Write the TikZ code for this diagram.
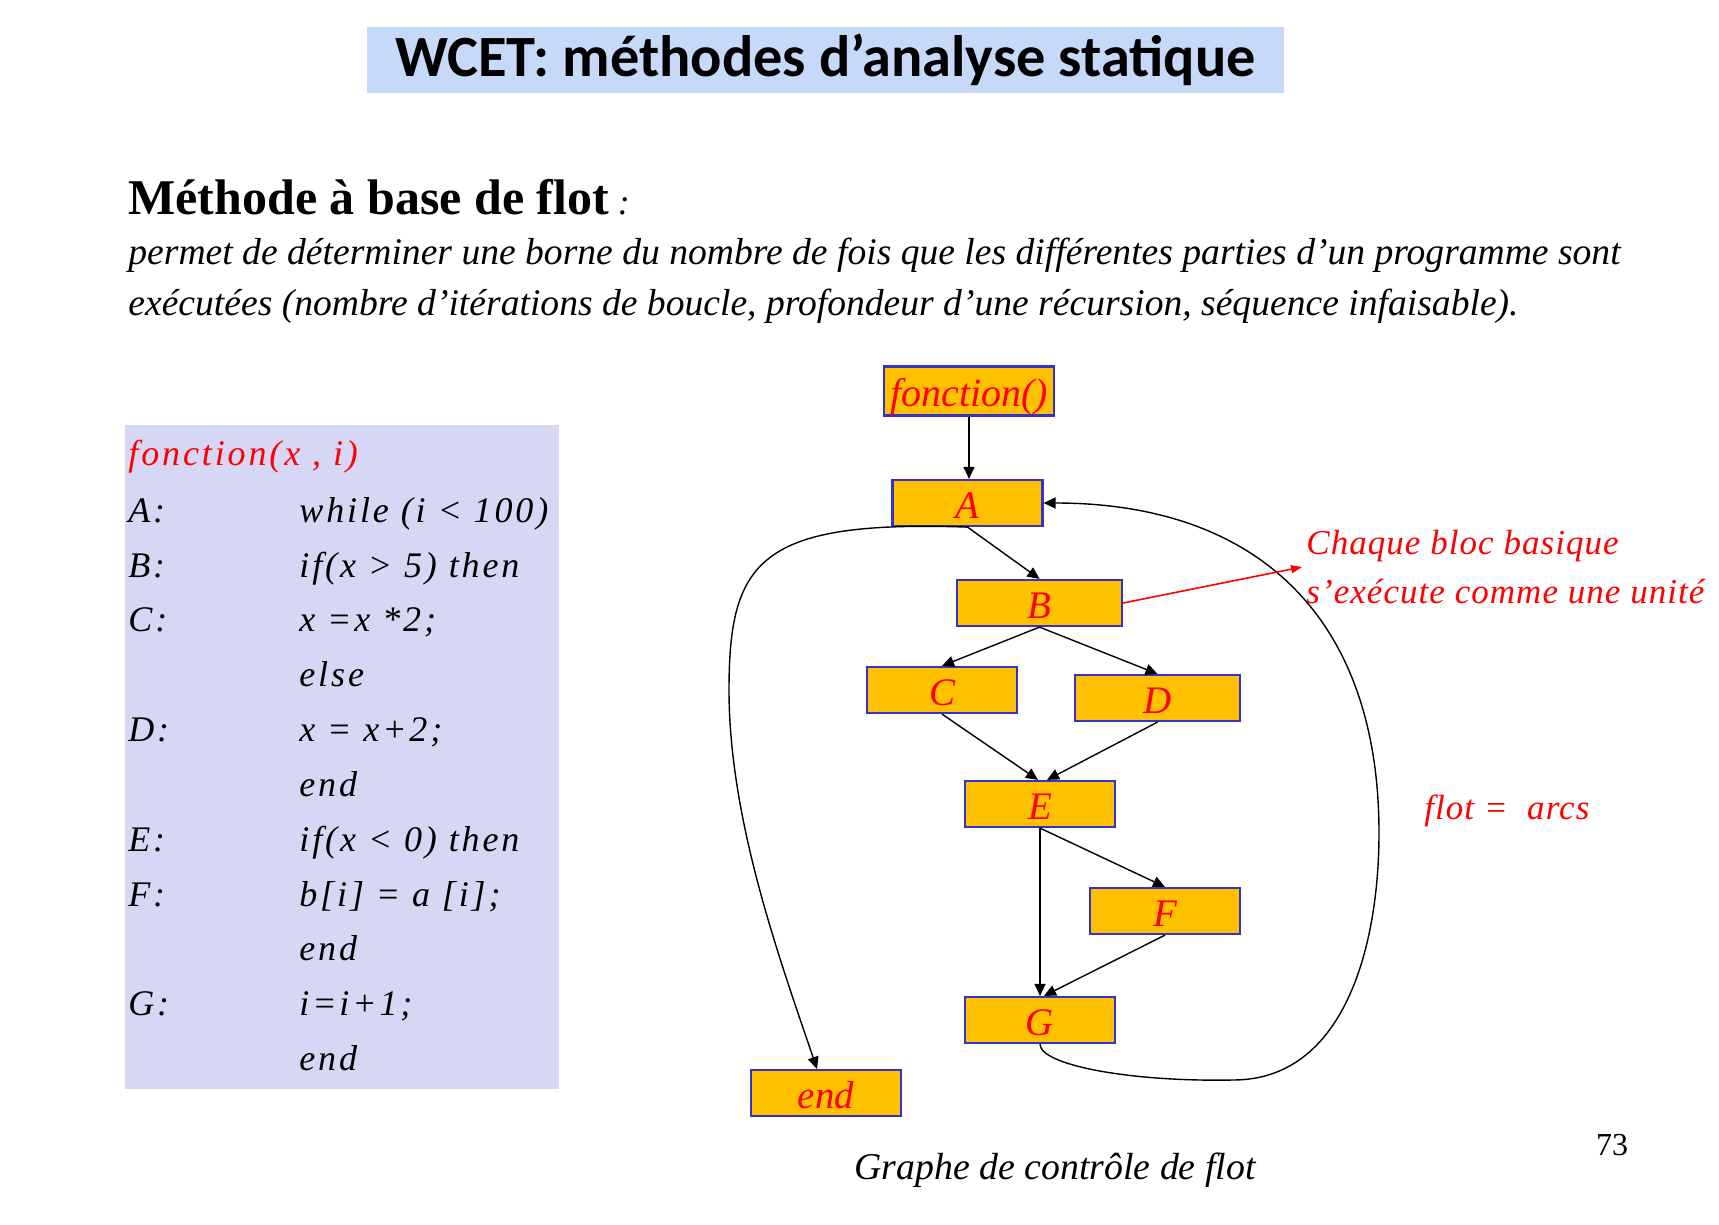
\documentclass[tikz,border=0pt]{standalone}
\usepackage{fontspec}
\setmainfont{Liberation Serif}
\newfontfamily\titlefont{Carlito}
\newfontfamily\codefont[LetterSpace=8]{Liberation Serif}
\newfontfamily\notefont[LetterSpace=3]{Liberation Serif}
\usetikzlibrary{arrows.meta,calc}
\definecolor{titlebg}{RGB}{198,217,248}
\definecolor{codebg}{RGB}{214,214,245}
\definecolor{blockfill}{RGB}{255,192,0}
\definecolor{blockline}{RGB}{51,51,204}
\definecolor{txtred}{RGB}{255,0,0}
\begin{document}
\begin{tikzpicture}[x=0.5pt,y=-0.5pt,
  block/.style={draw=blockline, line width=1.1pt, fill=blockfill,
    minimum width=75pt, minimum height=23pt, inner sep=0pt, text=txtred,
    text height=15.5pt, text depth=0pt,
    font=\fontsize{19.5}{22}\selectfont\itshape},
  wideblock/.style={block, minimum width=82.5pt},
  flow/.style={draw=black, line width=0.7pt, -{Triangle[length=6pt,width=5.5pt]}},
  pointer/.style={draw=txtred, line width=0.8pt, -{Triangle[length=5.5pt,width=4pt]}},
  codeline/.style={anchor=base west, inner sep=0pt,
    font=\codefont\itshape\fontsize{18}{20}\selectfont},
  prose/.style={anchor=base west, inner sep=0pt,
    font=\itshape\fontsize{18.8}{22}\selectfont},
  redtext/.style={inner sep=0pt, text=txtred,
    font=\notefont\itshape\fontsize{17.5}{24.5}\selectfont}
]
% page
\fill[white] (0,0) rectangle (1719,1225);
\useasboundingbox (0,0) rectangle (1719,1225);

% title banner
\node[fill=titlebg, minimum width=458.5pt, minimum height=33pt, inner sep=0pt,
      font=\titlefont\bfseries\fontsize{29.2}{32}\selectfont] (title) at (825.5,60)
      {WCET: méthodes d’analyse statique};

% heading and explanation
\node[anchor=base west, inner sep=0pt] (head) at (128,215)
  {{\fontsize{25}{30}\selectfont\bfseries Méthode à base de flot}{\fontsize{18}{20}\selectfont\itshape\ :}};
\node[prose] (prose1) at (128,265)
  {permet de déterminer une borne du nombre de fois que les différentes parties d’un programme sont};
\node[prose] (prose2) at (128,315)
  {exécutées (nombre d’itérations de boucle, profondeur d’une récursion, séquence infaisable).};

% source code listing
\node[fill=codebg, minimum width=217pt, minimum height=332pt, inner sep=0pt] (codebox) at (342,757) {};
\node[codeline, text=txtred] (sig) at (128,465) {fonction(x , i)};
\node[codeline] (labA) at (128,522) {A:};
\node[codeline] (srcA) at (299,522) {while (i < 100)};
\node[codeline] (labB) at (128,577) {B:};
\node[codeline] (srcB) at (299,577) {if(x > 5) then};
\node[codeline] (labC) at (128,631) {C:};
\node[codeline] (srcC) at (299,631) {x =x *2;};
\node[codeline] (srcElse) at (299,686) {else};
\node[codeline] (labD) at (128,741) {D:};
\node[codeline] (srcD) at (299,741) {x = x+2;};
\node[codeline] (srcEnd1) at (299,796) {end};
\node[codeline] (labE) at (128,851) {E:};
\node[codeline] (srcE) at (299,851) {if(x < 0) then};
\node[codeline] (labF) at (128,906) {F:};
\node[codeline] (srcF) at (299,906) {b[i] = a [i];};
\node[codeline] (srcEnd2) at (299,960) {end};
\node[codeline] (labG) at (128,1015) {G:};
\node[codeline] (srcG) at (299,1015) {i=i+1;};
\node[codeline] (srcEnd3) at (299,1070) {end};

% control flow graph
\node[block, minimum width=85pt, minimum height=24.5pt, font=\fontsize{20}{22}\selectfont\itshape] (fn) at (969,391) {fonction()};
\node[block] (A) at (967.5,503) {A};
\node[wideblock] (B) at (1039.5,603) {B};
\node[block] (C) at (942,690) {C};
\node[wideblock] (D) at (1157.5,698) {D};
\node[block] (E) at (1040,804) {E};
\node[block] (F) at (1165,911) {F};
\node[block] (G) at (1040,1020) {G};
\node[block] (exit) at (826,1093) {end};

\draw[flow] (fn.south) -- (fn.south |- A.north);
\draw[flow] (A.south) -- (B.north);
\draw[flow] (B.south) -- (C.north);
\draw[flow] (B.south) -- (D.north);
\draw[flow] (C.south) -- ($(E.north)+(-2,0)$);
\draw[flow] (D.south) -- ($(E.north)+(7,0)$);
\draw[flow] (E.south) -- (G.north);
\draw[flow] (E.south) -- (F.north);
\draw[flow] (F.south) -- ($(G.north)+(4,0)$);
% loop back edge from G to A
\draw[flow] (G.south) .. controls +(0,21) and (1130,1082) .. (1233,1080)
  .. controls (1345,1080) and (1379,945) .. (1379,833)
  .. controls (1379,620) and (1260,503) .. (A.east);
% loop exit edge from A to end
\draw[flow] (A.south) .. controls (760,520) and (729,560) .. (729,690)
  .. controls (729,820) and (780,960) .. ($(exit.north)+(-9,0)$);

% annotations
\node[redtext, anchor=west, align=left] (note) at (1306,567)
  {Chaque bloc basique\\s’exécute comme une unité};
\draw[pointer] (B.east) -- ($(note.west)+(-4,0)$);
\node[redtext, anchor=base west] (arcs) at (1424,819) {flot =\ \ arcs};
\node[anchor=base, inner sep=0pt, font=\itshape\fontsize{18.9}{22}\selectfont] (caption) at (1055,1179)
  {Graphe de contrôle de flot};
\node[anchor=base, inner sep=0pt, font=\fontsize{16}{18}\selectfont] (page) at (1612,1155) {73};
\end{tikzpicture}
\end{document}
